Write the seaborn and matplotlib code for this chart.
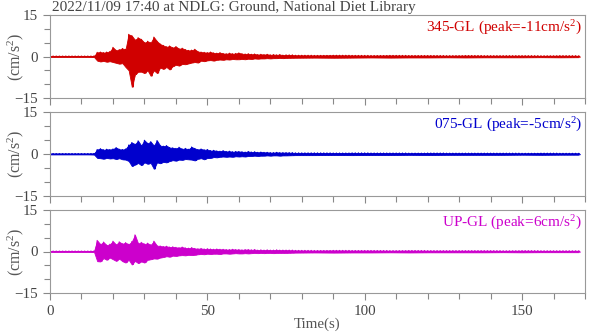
import numpy as np
import pandas as pd
import seaborn as sns
import matplotlib.pyplot as plt
from matplotlib.ticker import MultipleLocator

# envelope of each trace (upper / lower peak per second)
t_pre = [0, 2, 4, 6, 8, 10, 12]
t_act = list(range(14, 76))
t_tail = [78, 84, 90, 96, 102, 108, 114, 120, 126, 132, 138, 144, 150, 156, 162, 168]

amp_pre = [0.15, 0.15, 0.15, 0.15, 0.15, 0.15, 0.15]

up_345 = [0.2, 1.5, 1.6, 1.4, 1.6, 1.8, 3.3, 2.2, 2.5, 2.9, 2.6, 8.0, 7.5, 6.0, 6.8, 6.2,
          5.0, 5.5, 5.0, 7.0, 5.5, 4.5, 4.0, 3.5, 3.8, 3.2, 3.6, 2.8, 3.0, 2.5, 2.2, 2.3,
          2.6, 1.8, 1.6, 1.5, 1.4, 1.6, 1.3, 1.2, 1.4, 1.1, 1.0, 1.2, 1.0, 1.1, 1.3, 1.0,
          0.9, 1.0, 0.8, 0.9, 0.7, 0.8, 0.7, 0.8, 0.6, 0.7, 0.6, 0.7, 0.5, 0.6]
lo_345 = [-0.2, -1.5, -1.8, -1.6, -1.9, -1.7, -2.0, -2.3, -2.6, -2.4, -3.8, -5.0, -11.0, -6.5, -5.5, -5.5,
          -6.0, -5.0, -7.0, -5.0, -6.0, -4.0, -4.5, -3.8, -4.7, -3.5, -3.0, -3.3, -2.7, -2.8, -2.5, -2.2,
          -2.0, -2.2, -1.5, -1.7, -1.4, -1.3, -1.5, -1.2, -1.1, -1.2, -1.0, -1.1, -0.9, -1.0, -1.0, -0.9,
          -1.0, -0.8, -0.9, -0.7, -0.8, -0.7, -0.7, -0.6, -0.7, -0.6, -0.6, -0.5, -0.6, -0.5]
tail_345 = [0.45, 0.4, 0.45, 0.4, 0.35, 0.4, 0.35, 0.35, 0.3, 0.35, 0.3, 0.3, 0.3, 0.25, 0.3, 0.25]

up_075 = [0.2, 1.6, 1.9, 1.5, 1.7, 1.6, 1.8, 2.3, 1.7, 1.6, 1.8, 3.2, 4.1, 3.5, 4.7, 3.0,
          4.9, 3.8, 4.4, 3.0, 4.8, 3.0, 2.8, 3.0, 2.3, 2.2, 2.0, 2.4, 1.8, 2.0, 1.7, 2.5,
          2.0, 1.6, 1.8, 1.5, 1.6, 1.2, 1.3, 1.1, 1.0, 1.2, 0.9, 1.0, 0.8, 0.9, 0.9, 0.8,
          0.7, 0.9, 0.7, 0.8, 0.6, 0.7, 0.6, 0.6, 0.5, 0.5, 0.6, 0.5, 0.5, 0.5]
lo_075 = [-0.2, -1.4, -1.5, -1.7, -1.4, -1.6, -1.5, -1.8, -1.5, -1.9, -2.0, -2.5, -4.3, -3.8, -3.2, -4.0,
          -3.0, -3.5, -3.2, -5.3, -3.0, -3.3, -2.8, -3.0, -2.5, -2.2, -2.4, -2.0, -2.1, -1.8, -1.9, -2.0,
          -2.3, -1.7, -1.5, -1.9, -1.4, -1.4, -1.1, -1.2, -1.0, -0.9, -1.0, -0.9, -1.0, -0.8, -0.9, -0.8,
          -0.9, -0.7, -0.7, -0.6, -0.7, -0.6, -0.6, -0.5, -0.6, -0.5, -0.5, -0.6, -0.5, -0.5]
tail_075 = [0.4, 0.4, 0.35, 0.4, 0.35, 0.35, 0.3, 0.35, 0.3, 0.3, 0.3, 0.3, 0.25, 0.3, 0.25, 0.25]

up_up = [0.2, 4.0, 2.6, 3.4, 2.3, 2.6, 3.7, 2.5, 3.5, 2.8, 3.2, 2.6, 3.6, 6.0, 2.9, 3.3,
         2.7, 3.0, 2.4, 3.7, 2.1, 2.0, 1.8, 1.9, 1.6, 1.7, 1.5, 1.4, 1.6, 1.3, 1.2, 1.4,
         1.1, 1.0, 1.1, 0.9, 1.0, 0.9, 0.8, 0.9, 0.8, 0.8, 0.7, 0.7, 0.8, 0.7, 0.7, 0.6,
         0.7, 0.7, 0.6, 0.7, 0.5, 0.6, 0.5, 0.6, 0.5, 0.5, 0.6, 0.5, 0.5, 0.5]
lo_up = [-0.2, -3.5, -3.6, -2.4, -3.0, -2.2, -2.8, -3.4, -2.6, -3.5, -4.0, -3.0, -4.7, -3.4, -4.2, -3.6,
         -4.0, -3.0, -2.8, -2.5, -2.6, -2.2, -2.0, -1.7, -1.9, -1.5, -1.6, -1.4, -1.3, -1.4, -1.2, -1.3,
         -1.2, -1.0, -0.9, -1.0, -0.8, -0.9, -0.8, -0.8, -0.9, -0.7, -0.7, -0.8, -0.7, -0.6, -0.7, -0.7,
         -0.6, -0.7, -0.6, -0.5, -0.6, -0.5, -0.6, -0.5, -0.5, -0.6, -0.5, -0.5, -0.5, -0.5]
tail_up = [0.4, 0.35, 0.4, 0.35, 0.35, 0.3, 0.35, 0.3, 0.3, 0.3, 0.3, 0.25, 0.3, 0.25, 0.25, 0.25]

channels = ['345-GL', '075-GL', 'UP-GL']
peaks = ['-11', '-5', '6']
colors = ['#d00000', '#0000cd', '#cc00cc']


def envelope(up, lo, tail):
    t = t_pre + t_act + t_tail
    hi = amp_pre + up + tail
    low = [-a for a in amp_pre] + lo + [-a for a in tail]
    return pd.DataFrame({'time': t, 'hi': hi, 'lo': low})


def zigzag(env):
    # one swing per second between the upper and lower peak read for that second
    t = env['time'].to_numpy(float)
    dt = np.diff(t, append=t[-1] + 1)
    xs, ys = [], []
    for ti, d, a, b in zip(t, dt, env['hi'], env['lo']):
        n = max(2, int(round(d)) * 2)
        xs.extend(ti + d * np.arange(n) / n)
        ys.extend([a, b] * (n // 2))
    return pd.DataFrame({'time': xs, 'acc': ys})


envs = [envelope(up_345, lo_345, tail_345),
        envelope(up_075, lo_075, tail_075),
        envelope(up_up, lo_up, tail_up)]

sns.set_style('ticks')
plt.rcParams['font.family'] = ['Liberation Serif', 'DejaVu Serif']
plt.rcParams['mathtext.fontset'] = 'custom'
plt.rcParams['mathtext.rm'] = 'Liberation Serif'
plt.rcParams['mathtext.it'] = 'Liberation Serif:italic'

fig = plt.figure(figsize=(6.13, 3.34), dpi=100)
tops = [15, 112, 210]
bottoms = [98, 196, 293]

for i in range(3):
    y0 = 1 - bottoms[i] / 334
    h = (bottoms[i] - tops[i]) / 334
    ax = fig.add_axes([50 / 613, y0, 535 / 613, h])
    env = envs[i]
    # the dense part of the record reads as a filled band
    ax.fill_between(env['time'], env['lo'], env['hi'], color=colors[i], linewidth=0.6)
    sns.lineplot(data=zigzag(env), x='time', y='acc', sort=False, estimator=None,
                 color=colors[i], linewidth=0.8, ax=ax)
    ax.set_xlim(0, 170)
    ax.set_ylim(-15, 15)
    ax.set_yticks([-15, 0, 15])
    ax.yaxis.set_minor_locator(MultipleLocator(5))
    ax.xaxis.set_major_locator(MultipleLocator(50))
    ax.xaxis.set_minor_locator(MultipleLocator(10))
    ax.tick_params(which='both', direction='out', colors='#888888', labelcolor='#444444',
                   labelsize=10.8, width=0.8)
    ax.tick_params(which='major', length=5)
    ax.tick_params(which='minor', length=4)
    for s in ax.spines.values():
        s.set_color('#999999')
        s.set_linewidth(0.8)
    ax.set_ylabel('(cm/s$^2$)', fontsize=11.5, color='#555555')
    ax.yaxis.set_label_coords(-0.045, 0.5)
    ax.text(0.995, 0.95, channels[i] + ' (peak=' + peaks[i] + 'cm/s$^2$)',
            transform=ax.transAxes, ha='right', va='top', fontsize=11, color=colors[i])
    if i < 2:
        ax.set_xlabel('')
        ax.tick_params(axis='x', labelbottom=False)
    else:
        ax.set_xlabel('Time(s)', fontsize=10.8, color='#555555', labelpad=0)

fig.text(52 / 613, 1 - 7 / 334, '2022/11/09 17:40 at NDLG: Ground, National Diet Library',
         fontsize=11, color='#444444', va='center', ha='left')

fig.savefig('out.png', dpi=100, facecolor='white')
